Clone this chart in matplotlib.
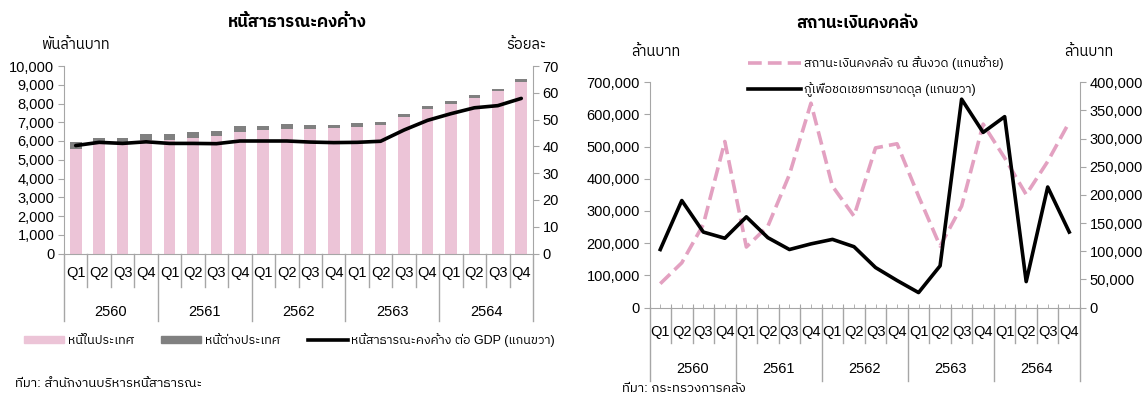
import matplotlib
matplotlib.use('Agg')
import matplotlib.pyplot as plt
from matplotlib import font_manager
from matplotlib.lines import Line2D
from matplotlib.patches import Patch
from matplotlib.ticker import FuncFormatter


def find_thai_font():
    # look for any installed family that can draw Thai
    from fontTools.ttLib import TTFont
    found = []
    for f in font_manager.fontManager.ttflist:
        try:
            tt = TTFont(f.fname, fontNumber=0, lazy=True)
            cmap = tt.getBestCmap()
            if cmap and 0x0E2B in cmap:
                found.append(f.name)
        except Exception:
            pass
    found = sorted(set(found), key=lambda n: (('Thai' not in n), ('Looped' in n), ('Sans' not in n), n))
    return found[0] if found else 'DejaVu Sans'


thai = find_thai_font()
plt.rcParams['font.family'] = ['Liberation Sans', thai, 'DejaVu Sans']

quarters = ['Q1', 'Q2', 'Q3', 'Q4'] * 5
years = ['2560', '2561', '2562', '2563', '2564']

# หนี้สาธารณะคงค้าง (พันล้านบาท)
domestic = [5570, 5870, 5870, 6050, 6050, 6160, 6270, 6500, 6570, 6640,
            6650, 6680, 6770, 6840, 7280, 7700, 8000, 8320, 8670, 9170]
foreign = [355, 290, 290, 300, 300, 300, 260, 280, 245, 265,
           220, 195, 195, 195, 140, 145, 125, 140, 125, 140]
debt_gdp = [40.3, 41.5, 41.1, 41.7, 41.1, 41.1, 41.0, 42.0, 42.0, 42.0,
            41.6, 41.4, 41.5, 41.9, 46.1, 49.7, 52.2, 54.4, 55.2, 57.9]

# สถานะเงินคงคลัง (ล้านบาท)
treasury = [74000, 139000, 258000, 516000, 188000, 253000, 413000, 635000, 377000, 284000,
            496000, 509000, 346000, 191000, 315000, 570000, 465000, 351000, 454000, 576000]
deficit_loan = [103000, 190000, 134000, 123000, 161000, 124000, 103000, 113000, 121000, 108000,
                71000, 48000, 26500, 74000, 370000, 311000, 339000, 46000, 214000, 134000]

W, H = 1147, 398
fig = plt.figure(figsize=(W / 100, H / 100), dpi=100)

def box(x0, y0, x1, y1):
    return [x0 / W, 1 - y1 / H, (x1 - x0) / W, (y1 - y0) / H]

grey = '#A6A6A6'
pink = '#ECC4D7'
dash_pink = '#E3A1C1'
dashes = (0, (3.8, 1.7))
x = list(range(20))
comma = FuncFormatter(lambda v, p: f'{int(v):,}')


def style_axes(ax, axr):
    for a in (ax, axr):
        for s in a.spines.values():
            s.set_color(grey)
        a.spines['top'].set_visible(False)
        a.tick_params(axis='y', direction='out', length=4, color=grey, labelsize=10.5, pad=3)
    ax.spines['right'].set_visible(False)
    axr.spines['left'].set_visible(False)
    axr.spines['bottom'].set_visible(False)


def category_axis(ax, q_y, q_len, y_y, y_len, ticks_up):
    ax.set_xlim(-0.5, 19.5)
    if ticks_up:
        ax.set_xticks([i - 0.5 for i in range(21)])
        ax.set_xticks(x, minor=True)
        ax.tick_params(axis='x', which='both', direction='in', length=3, color=grey, labelbottom=False)
    else:
        ax.set_xticks([])
    tr = ax.get_xaxis_transform()
    for i in range(21):
        end = y_len if i % 4 == 0 else q_len
        ax.plot([i - 0.5, i - 0.5], [0, end], transform=tr, color=grey, lw=1, clip_on=False)
    for i, q in enumerate(quarters):
        ax.text(i, q_y, q, transform=tr, ha='center', va='center', fontsize=10.5)
    for k, yr in enumerate(years):
        ax.text(4 * k + 1.5, y_y, yr, transform=tr, ha='center', va='center', fontsize=10.5)


# ---- left: หนี้สาธารณะคงค้าง
ax1 = fig.add_axes(box(64, 66, 533, 253.5))
ax1.bar(x, domestic, width=0.5, color=pink, zorder=2)
ax1.bar(x, foreign, width=0.5, bottom=domestic, color='#808080', zorder=2)
ax1.set_ylim(0, 10000)
ax1.set_yticks(range(0, 10001, 1000))
ax1.yaxis.set_major_formatter(comma)
ax1r = ax1.twinx()
ax1r.plot(x, debt_gdp, color='black', lw=2.6, solid_capstyle='round')
ax1r.set_ylim(0, 70)
ax1r.set_yticks(range(0, 71, 10))
style_axes(ax1, ax1r)
category_axis(ax1, -0.105, -0.177, -0.31, -0.36, False)

fig.text(297 / W, 1 - 22 / H, 'หนี้สาธารณะคงค้าง', ha='center', va='center', fontsize=12, fontweight='bold')
fig.text(75 / W, 1 - 45 / H, 'พันล้านบาท', ha='center', va='center', fontsize=10.5)
fig.text(526 / W, 1 - 45 / H, 'ร้อยละ', ha='center', va='center', fontsize=10.5)

h1 = [Patch(color=pink), Patch(color='#808080'), Line2D([], [], color='black', lw=2.6)]
fig.legend(h1, ['หนี้ในประเทศ', 'หนี้ต่างประเทศ', 'หนี้สาธารณะคงค้าง ต่อ GDP (แกนขวา)'],
           loc='center left', bbox_to_anchor=(24 / W, 1 - 340 / H), ncol=3, frameon=False,
           fontsize=9, handlelength=3.2, handleheight=0.45, handletextpad=0.3,
           columnspacing=2.2, borderpad=0, borderaxespad=0)
fig.text(15 / W, 1 - 384 / H, 'ที่มา: สำนักงานบริหารหนี้สาธารณะ', ha='left', va='center', fontsize=9.5)

# ---- right: สถานะเงินคงคลัง
ax2 = fig.add_axes(box(649.5, 82.3, 1080, 307.5))
ax2.plot(x, treasury, color=dash_pink, lw=2.6, ls=dashes)
ax2.set_ylim(0, 700000)
ax2.set_yticks(range(0, 700001, 100000))
ax2.yaxis.set_major_formatter(comma)
ax2r = ax2.twinx()
ax2r.plot(x, deficit_loan, color='black', lw=2.6)
ax2r.set_ylim(0, 400000)
ax2r.set_yticks(range(0, 400001, 50000))
ax2r.yaxis.set_major_formatter(comma)
style_axes(ax2, ax2r)
category_axis(ax2, -0.107, -0.157, -0.272, -0.328, True)

fig.text(857 / W, 1 - 23 / H, 'สถานะเงินคงคลัง', ha='center', va='center', fontsize=12, fontweight='bold')
fig.text(656 / W, 1 - 52 / H, 'ล้านบาท', ha='center', va='center', fontsize=10.5)
fig.text(1089 / W, 1 - 52 / H, 'ล้านบาท', ha='center', va='center', fontsize=10.5)

h2 = [Line2D([], [], color=dash_pink, lw=2.6, ls=dashes), Line2D([], [], color='black', lw=2.6)]
fig.legend(h2, ['สถานะเงินคงคลัง ณ สิ้นงวด (แกนซ้าย)', 'กู้เพื่อชดเชยการขาดดุล (แกนขวา)'],
           loc='upper left', bbox_to_anchor=(748 / W, 1 - 56 / H), frameon=False,
           fontsize=9, handlelength=4.2, handletextpad=0.3, labelspacing=1.0,
           borderpad=0, borderaxespad=0)
fig.text(622 / W, 1 - 389 / H, 'ที่มา: กระทรวงการคลัง', ha='left', va='center', fontsize=9.5)

fig.savefig('out.png', dpi=100)
